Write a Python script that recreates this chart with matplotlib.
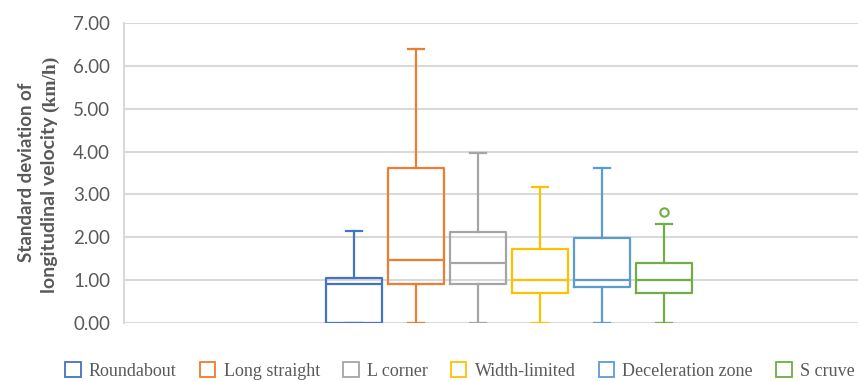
import matplotlib
matplotlib.use("Agg")
import matplotlib.pyplot as plt
from matplotlib.patches import Rectangle

# box statistics per road section (km/h)
sections = ["Roundabout", "Long straight", "L corner", "Width-limited",
            "Deceleration zone", "S cruve"]
medians = [0.90, 1.46, 1.40, 1.00, 1.00, 1.00]
q1s = [0.00, 0.90, 0.90, 0.69, 0.85, 0.69]
q3s = [1.04, 3.61, 2.13, 1.72, 1.99, 1.40]
whisk_lo = [0.00, 0.00, 0.00, 0.00, 0.00, 0.00]
whisk_hi = [2.14, 6.40, 3.96, 3.18, 3.61, 2.32]
outliers = [[], [], [], [], [], [2.59]]

colors = ["#4472C4", "#ED7D31", "#A5A5A5", "#FFC000", "#5B9BD5", "#70AD47"]
grid_c = "#D9D9D9"
text_c = "#595959"

W, H = 859, 381
fig = plt.figure(figsize=(W / 100, H / 100), dpi=100)
ax = fig.add_axes([124 / W, 1 - 323 / H, 734 / W, 300 / H])

stats = []
for i in range(len(sections)):
    stats.append(dict(label=sections[i], med=medians[i], q1=q1s[i], q3=q3s[i],
                      whislo=whisk_lo[i], whishi=whisk_hi[i], fliers=outliers[i]))

pos = list(range(1, len(sections) + 1))
bp = ax.bxp(stats, positions=pos, widths=0.9, capwidths=0.27,
            showfliers=True, patch_artist=False)

for i, c in enumerate(colors):
    bp["boxes"][i].set(color=c, linewidth=1.6)
    bp["medians"][i].set(color=c, linewidth=1.6)
    for ln in bp["whiskers"][2 * i:2 * i + 2] + bp["caps"][2 * i:2 * i + 2]:
        ln.set(color=c, linewidth=1.6)
    bp["fliers"][i].set(marker="o", markerfacecolor="white", markeredgecolor=c,
                        markersize=6, markeredgewidth=1.5)
for art in bp["boxes"] + bp["medians"] + bp["whiskers"] + bp["caps"] + bp["fliers"]:
    art.set_zorder(3)

ax.set_xlim(1 - 230 / 62, 1 + 504 / 62)
ax.set_ylim(0, 7)
ax.set_yticks(range(0, 8))
ax.set_yticklabels([f"{v:.2f}" for v in range(0, 8)], fontsize=13.5,
                   family="Lato", color=text_c)
ax.set_xticks([])
ax.tick_params(axis="y", length=0, pad=10)
ax.yaxis.grid(True, color=grid_c, linewidth=1.5, zorder=0)
ax.set_axisbelow(True)
for s in ["top", "right", "bottom"]:
    ax.spines[s].set_visible(False)
ax.spines["left"].set_color(grid_c)
ax.spines["left"].set_linewidth(1.5)

# two-line y label, unit set in a serif face
fig.text(27 / W, 1 - 172 / H, "Standard deviation of", rotation=90,
         ha="center", va="center", fontsize=13.5, fontweight="bold",
         family="Lato", color=text_c)
t2 = fig.text(50 / W, 1 - 293 / H, "longitudinal velocity ", rotation=90,
              ha="center", va="bottom", fontsize=14, fontweight="bold",
              family="Lato", color=text_c)
renderer = fig.canvas.get_renderer()
bb = t2.get_window_extent(renderer)
fig.text(50 / W, bb.y1 / H, "(km/h)", rotation=90,
         ha="center", va="bottom", fontsize=14, fontweight="bold",
         family="Liberation Serif", color=text_c)

handles = [Rectangle((0, 0), 1, 1, facecolor="white", edgecolor=c, linewidth=1.3)
           for c in colors]
leg = fig.legend(handles, sections, loc="center", bbox_to_anchor=(460 / W, 1 - 371 / H),
                 ncol=6, frameon=False, handlelength=0.85, handleheight=0.85,
                 handletextpad=0.45, columnspacing=1.3,
                 prop={"family": "Liberation Serif", "size": 13})
for t in leg.get_texts():
    t.set_color(text_c)

fig.savefig("out.png", dpi=100)
